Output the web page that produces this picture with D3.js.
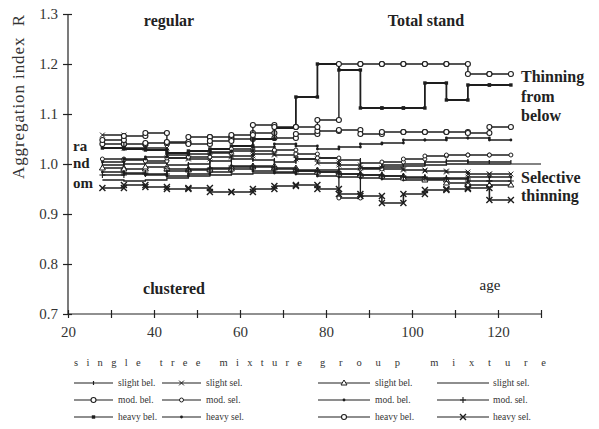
<!DOCTYPE html>
<html lang="en">
<head>
<meta charset="UTF-8">
<title>Aggregation index R</title>
<script src="https://cdn.jsdelivr.net/npm/d3@7"></script>
<style>
    body { margin: 0; background: #fff; }
    svg { font-family: "Liberation Serif", "DejaVu Serif", serif; }
    .axis path, .axis line { stroke: #222; stroke-width: 1.2; }
    .axis text { font-size: 15px; fill: #333; font-family: "Liberation Serif", serif; }
    .series { fill: none; stroke: #1e1e1e; }
</style>
</head>
<body>
<script>
    // period boundaries (age, years)
    var ages = [28, 33, 38, 43, 48, 53, 58, 63, 68, 73, 78, 83, 88, 93, 98, 103, 108, 113, 118, 123];

    // aggregation index R per 5-year period (19 periods)
    var sSlightBel = [0.998, 1.000, 1.002, 0.998, 1.000, 1.006, 1.010, 1.008, 1.004, 1.010, 1.012, 1.008, 1.002, 0.998, 1.000, 1.004, 1.006, 1.004, 1.004];
    var sModBel    = [1.040, 1.040, 1.042, 1.042, 1.054, 1.054, 1.050, 1.062, 1.052, 1.060, 1.066, 1.068, 1.060, 1.064, 1.064, 1.064, 1.064, 1.062, 1.074];
    var sHeavyBel  = [1.032, 1.030, 1.028, 1.022, 1.026, 1.030, 1.036, 1.050, 1.072, 1.134, 1.200, 1.188, 1.112, 1.112, 1.112, 1.162, 1.128, 1.158, 1.158];
    var sSlightSel = [1.058, 1.032, 1.032, 1.012, 1.010, 1.014, 1.016, 1.020, 1.018, 1.010, 1.002, 0.998, 0.992, 0.990, 0.988, 0.986, 0.984, 0.980, 0.980];
    var sModSel    = [1.010, 1.008, 1.006, 1.012, 1.014, 1.022, 1.030, 1.026, 1.028, 1.020, 1.012, 0.932, 0.990, 1.004, 1.010, 1.016, 1.018, 1.018, 1.018];
    var sHeavySel  = [0.984, 0.980, 0.978, 0.976, 0.980, 0.984, 0.990, 0.986, 0.982, 0.980, 0.976, 0.974, 0.972, 0.970, 0.968, 0.970, 0.972, 0.974, 0.974];
    var gSlightBel = [0.992, 0.990, 0.994, 0.990, 0.988, 0.990, 0.994, 0.996, 0.992, 0.988, 0.984, 0.980, 0.978, 0.976, 0.972, 0.968, 0.962, 0.958, 0.958];
    var gModBel    = [1.004, 1.010, 1.014, 1.018, 1.020, 1.024, 1.026, 1.034, 1.040, 1.036, 1.030, 1.034, 1.040, 1.042, 1.048, 1.048, 1.052, 1.052, 1.048];
    var gHeavyBel  = [1.048, 1.056, 1.062, 1.044, 1.040, 1.046, 1.058, 1.078, 1.074, 1.074, 1.088, 1.200, 1.200, 1.200, 1.200, 1.200, 1.200, 1.180, 1.180];
    var gSlightSel = [0.968, 0.966, 0.968, 0.972, 0.976, 0.978, 0.980, 0.982, 0.984, 0.986, 0.988, 0.990, 0.992, 0.994, 0.996, 0.998, 1.000, 1.000, 1.000];
    var gModSel    = [0.978, 0.982, 0.980, 0.986, 0.990, 0.992, 0.996, 0.994, 0.990, 0.986, 0.984, 0.980, 0.978, 0.976, 0.974, 0.972, 0.970, 0.966, 0.966];
    var gHeavySel  = [0.952, 0.958, 0.954, 0.950, 0.952, 0.944, 0.944, 0.950, 0.956, 0.958, 0.950, 0.940, 0.936, 0.922, 0.940, 0.948, 0.950, 0.952, 0.928];

    var randomLevel = 1.0;
    var randomLineEnd = 130;

    var xTicks = [20, 30, 40, 50, 60, 70, 80, 90, 100, 110, 120, 130];
    var xLabels = [20, 40, 60, 80, 100, 120];
    var yTicks = [0.7, 0.8, 0.9, 1.0, 1.1, 1.2, 1.3];

    var legendHeaders = ["s i n g l e   t r e e   m i x t u r e", "g r o u p   m i x t u r e"];
    var legendNames = ["slight bel.", "mod. bel.", "heavy bel.", "slight sel.", "mod. sel.", "heavy sel."];

    // series table: [values, marker, line width, legend column, legend row]
    var series = [
        [sSlightBel, "tick",    1.3, 0, 0],
        [sModBel,    "circle",  1.4, 0, 1],
        [sHeavyBel,  "square",  1.8, 0, 2],
        [sSlightSel, "x",       1.3, 1, 0],
        [sModSel,    "scircle", 1.3, 1, 1],
        [sHeavySel,  "dot",     1.3, 1, 2],
        [gSlightBel, "tri",     1.3, 2, 0],
        [gModBel,    "dot",     1.3, 2, 1],
        [gHeavyBel,  "circle",  1.4, 2, 2],
        [gSlightSel, "none",    1.3, 3, 0],
        [gModSel,    "plus",    1.3, 3, 1],
        [gHeavySel,  "bigx",    1.6, 3, 2]
    ];

    var W = 599, H = 429;
    var svg = d3.select("body").append("svg").attr("width", W).attr("height", H);

    var x = d3.scaleLinear().domain([20, 130]).range([68, 541]);
    var y = d3.scaleLinear().domain([0.7, 1.3]).range([314, 14]);

    // axes
    var yAxis = svg.append("g").attr("class", "axis")
        .attr("transform", "translate(" + x(20) + ",0)")
        .call(d3.axisLeft(y).tickValues(yTicks).tickSize(5).tickPadding(5)
            .tickFormat(d3.format(".1f")));
    yAxis.select(".domain").attr("d", "M0," + y(0.7) + "V" + y(1.3));
    yAxis.selectAll(".tick").append("line").attr("x2", 4);

    var xAxis = svg.append("g").attr("class", "axis")
        .attr("transform", "translate(0," + y(0.7) + ")")
        .call(d3.axisBottom(x).tickValues(xTicks).tickSize(4).tickPadding(8)
            .tickFormat(function (d) { return xLabels.indexOf(d) >= 0 ? d : ""; }));
    xAxis.select(".domain").attr("d", "M" + x(20) + ",0H" + x(130));
    xAxis.selectAll(".tick").append("line").attr("y2", -4);

    // y title
    svg.append("text")
        .attr("transform", "translate(24,97) rotate(-90)")
        .attr("text-anchor", "middle")
        .attr("font-size", 17).attr("fill", "#333")
        .attr("xml:space", "preserve")
        .attr("textLength", 164)
        .text("Aggregation index  R");

    // annotations
    function label(t, px, py, size, weight, anchor) {
        svg.append("text").attr("x", px).attr("y", py)
            .attr("font-size", size).attr("font-weight", weight || "normal")
            .attr("text-anchor", anchor || "start").attr("fill", "#222").text(t);
    }
    label("regular", 169, 26, 16, "bold", "middle");
    label("Total stand", 426, 26, 16, "bold", "middle");
    label("clustered", 174, 294, 16, "bold", "middle");
    label("age", 490, 290, 15, "normal", "middle");
    label("ra", 73, 151, 15, "bold");
    label("nd", 73, 168, 15, "bold");
    label("om", 73, 188, 15, "bold");
    label("Thinning", 521, 82, 16, "bold");
    label("from", 521, 102, 16, "bold");
    label("below", 521, 121, 16, "bold");
    label("Selective", 521, 183, 16, "bold");
    label("thinning", 521, 201, 16, "bold");

    // marker drawing
    function marker(g, type, cx, cy) {
        var c = "#1e1e1e";
        if (type === "tick") {
            g.append("line").attr("x1", cx).attr("x2", cx).attr("y1", cy - 2).attr("y2", cy + 2)
                .attr("stroke", c).attr("stroke-width", 1.2);
        } else if (type === "circle") {
            g.append("circle").attr("cx", cx).attr("cy", cy).attr("r", 2.5)
                .attr("fill", "#fff").attr("stroke", c).attr("stroke-width", 1.1);
        } else if (type === "scircle") {
            g.append("circle").attr("cx", cx).attr("cy", cy).attr("r", 2)
                .attr("fill", "#fff").attr("stroke", c).attr("stroke-width", 1);
        } else if (type === "square") {
            g.append("rect").attr("x", cx - 1.7).attr("y", cy - 1.7).attr("width", 3.4).attr("height", 3.4)
                .attr("fill", c);
        } else if (type === "dot") {
            g.append("circle").attr("cx", cx).attr("cy", cy).attr("r", 1.4).attr("fill", c);
        } else if (type === "x" || type === "bigx") {
            var s = type === "bigx" ? 3 : 2.4;
            g.append("path").attr("d", "M" + (cx - s) + "," + (cy - s) + "L" + (cx + s) + "," + (cy + s) +
                "M" + (cx - s) + "," + (cy + s) + "L" + (cx + s) + "," + (cy - s))
                .attr("stroke", c).attr("stroke-width", type === "bigx" ? 1.4 : 1);
        } else if (type === "tri") {
            g.append("path").attr("d", "M" + cx + "," + (cy - 3) + "L" + (cx + 3) + "," + (cy + 2) +
                "L" + (cx - 3) + "," + (cy + 2) + "Z")
                .attr("fill", "#fff").attr("stroke", c).attr("stroke-width", 1);
        } else if (type === "plus") {
            g.append("path").attr("d", "M" + (cx - 3) + "," + cy + "H" + (cx + 3) + "M" + cx + "," + (cy - 3) + "V" + (cy + 3))
                .attr("stroke", c).attr("stroke-width", 1.1);
        }
    }

    // random reference continuation
    svg.append("line").attr("class", "series")
        .attr("x1", x(ages[ages.length - 1])).attr("x2", x(randomLineEnd))
        .attr("y1", y(randomLevel)).attr("y2", y(randomLevel))
        .attr("stroke-width", 1.1);

    var step = d3.line().curve(d3.curveStepAfter)
        .x(function (d) { return x(d[0]); })
        .y(function (d) { return y(d[1]); });

    series.forEach(function (s) {
        var vals = s[0];
        var pts = vals.map(function (v, i) { return [ages[i], v]; });
        pts.push([ages[vals.length], vals[vals.length - 1]]);
        var g = svg.append("g");
        g.append("path").attr("class", "series").attr("d", step(pts)).attr("stroke-width", s[2]);
        vals.forEach(function (v, i) {
            marker(g, s[1], x(ages[i]), y(v));
            marker(g, s[1], x(ages[i + 1]), y(v));
        });
    });

    // legend
    svg.append("text").attr("x", 74).attr("y", 366).attr("font-size", 10.5).attr("fill", "#333")
        .attr("xml:space", "preserve").attr("textLength", 228).text(legendHeaders[0]);
    svg.append("text").attr("x", 320).attr("y", 366).attr("font-size", 10.5).attr("fill", "#333")
        .attr("xml:space", "preserve").attr("textLength", 226).text(legendHeaders[1]);

    var colLine = [[74, 113], [162, 201], [318, 370], [437, 489]];
    var colText = [118, 206, 375, 493];
    var rowY = [383, 400, 417];

    series.forEach(function (s) {
        var col = s[3], row = s[4];
        var g = svg.append("g");
        var ly = rowY[row];
        g.append("line").attr("class", "series")
            .attr("x1", colLine[col][0]).attr("x2", colLine[col][1])
            .attr("y1", ly).attr("y2", ly).attr("stroke-width", 1.1);
        marker(g, s[1], (colLine[col][0] + colLine[col][1]) / 2, ly);
        g.append("text").attr("x", colText[col]).attr("y", ly + 3)
            .attr("font-size", 9.5).attr("fill", "#333")
            .text(legendNames[(col % 2) * 3 + row]);
    });
</script>
</body>
</html>
